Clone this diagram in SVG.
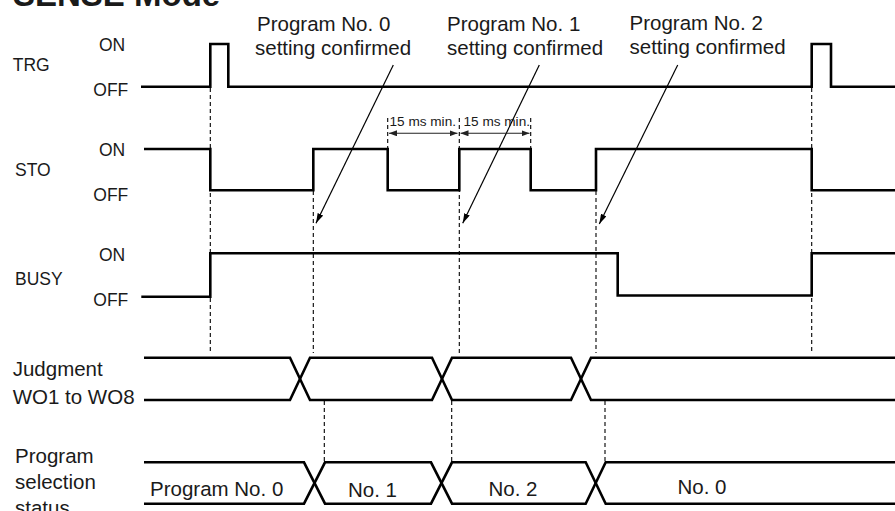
<svg xmlns="http://www.w3.org/2000/svg" width="895" height="511" viewBox="0 0 895 511">
<style>
  .sig{fill:none;stroke:#000;stroke-width:2.6;stroke-linejoin:miter;stroke-linecap:butt}
  .dash{fill:none;stroke:#000;stroke-width:1.1;stroke-dasharray:4 3}
  .lead{fill:none;stroke:#000;stroke-width:1.2}
  .dim{fill:none;stroke:#222;stroke-width:1.1}
  text{font-family:"Liberation Sans",Arial,sans-serif;fill:#1a1a1a}
  .lbl{font-size:17.5px}
  .big{font-size:20.5px}
  .sm{font-size:13.6px}
  .title{font-size:33px;font-weight:bold}
</style>
<defs>
  <marker id="ah" viewBox="0 0 10 6" refX="10" refY="3" markerWidth="10" markerHeight="6" markerUnits="userSpaceOnUse" orient="auto">
    <path d="M0,0 L10,3 L0,6 Z" fill="#000"/>
  </marker>
  <marker id="dh" viewBox="0 0 8 6" refX="8" refY="3" markerWidth="8" markerHeight="6" markerUnits="userSpaceOnUse" orient="auto-start-reverse">
    <path d="M0,0 L8,3 L0,6 Z" fill="#222"/>
  </marker>
</defs>

<text class="title" x="13" y="5.5">SENSE Mode</text>

<g id="connectors">
  <g id="timing-dashes">
    <path class="dash" d="M210.3,88 V353"/>
    <path class="dash" d="M313.3,191 V353"/>
    <path class="dash" d="M459.3,118 V353"/>
    <path class="dash" d="M596,191 V353"/>
    <path class="dash" d="M811.7,88 V353"/>
    <path class="dash" d="M387.7,118 V148"/>
    <path class="dash" d="M530.7,118 V148"/>
    <path class="dash" d="M324.3,401 V461"/>
    <path class="dash" d="M451.7,401 V461"/>
    <path class="dash" d="M605,401 V461"/>
  </g>
  <g id="leaders">
    <path class="lead" d="M393.3,65 L316,223.3" marker-end="url(#ah)"/>
    <path class="lead" d="M539.3,65 L462.7,223.3" marker-end="url(#ah)"/>
    <path class="lead" d="M677.7,65 L599.3,224" marker-end="url(#ah)"/>
  </g>
  <g id="dimensions">
    <path class="dim" d="M389,133.3 H457.5" marker-start="url(#dh)" marker-end="url(#dh)"/>
    <path class="dim" d="M460.5,133.3 H529.5" marker-start="url(#dh)" marker-end="url(#dh)"/>
  </g>
</g>

<g id="annotations">
  <g id="note-prog0">
    <text class="big" x="257" y="30.5">Program No. 0</text>
    <text class="big" x="255" y="54.5">setting confirmed</text>
  </g>
  <g id="note-prog1">
    <text class="big" x="447" y="30.5">Program No. 1</text>
    <text class="big" x="447" y="54.5">setting confirmed</text>
  </g>
  <g id="note-prog2">
    <text class="big" x="629.5" y="30">Program No. 2</text>
    <text class="big" x="629.5" y="54">setting confirmed</text>
  </g>
  <g id="note-15ms">
    <text class="sm" x="389.5" y="125.5">15 ms min.</text>
    <text class="sm" x="463.5" y="125.5">15 ms min.</text>
  </g>
</g>

<g id="trg">
  <text class="lbl" x="12.7" y="71">TRG</text>
  <text class="lbl" x="99" y="51">ON</text>
  <text class="lbl" x="93.3" y="96">OFF</text>
  <path class="sig" d="M141,86.7 H210.3 V44 H228.3 V86.7 H811.7 V44 H831 V86.7 H895"/>
</g>

<g id="sto">
  <text class="lbl" x="15" y="176">STO</text>
  <text class="lbl" x="99" y="156">ON</text>
  <text class="lbl" x="93.3" y="201">OFF</text>
  <path class="sig" d="M144,149 H210.3 V190.3 H313.3 V149 H387.7 V190.3 H459.3 V149 H530.7 V190.3 H596 V149 H811.7 V190.3 H895"/>
</g>

<g id="busy">
  <text class="lbl" x="15" y="285">BUSY</text>
  <text class="lbl" x="99" y="261">ON</text>
  <text class="lbl" x="93.3" y="306">OFF</text>
  <path class="sig" d="M141.3,296.7 H210.3 V253.3 H617.7 V295.5 H811.7 V253.3 H895"/>
</g>

<g id="judgment">
  <text class="big" x="12.7" y="376">Judgment</text>
  <text class="big" x="12.7" y="404">WO1 to WO8</text>
  <path class="sig" d="M144,357.7 H290 L310,400 H432 L452,357.7 H571 L591,400 H895"/>
  <path class="sig" d="M144,400 H290 L310,357.7 H432 L452,400 H571 L591,357.7 H895"/>
</g>

<g id="program-status">
  <text class="big" x="15" y="463">Program</text>
  <text class="big" x="15" y="489">selection</text>
  <text class="big" x="15" y="515">status</text>
  <path class="sig" d="M144,462.3 H304 L325,503.7 H431 L452,462.3 H585.7 L605.7,503.7 H895"/>
  <path class="sig" d="M144,503.7 H304 L325,462.3 H431 L452,503.7 H585.7 L605.7,462.3 H895"/>
  <text class="big" x="150" y="496">Program No. 0</text>
  <text class="big" x="348" y="496.5">No. 1</text>
  <text class="big" x="488.5" y="496">No. 2</text>
  <text class="big" x="677.5" y="494">No. 0</text>
</g>
</svg>
